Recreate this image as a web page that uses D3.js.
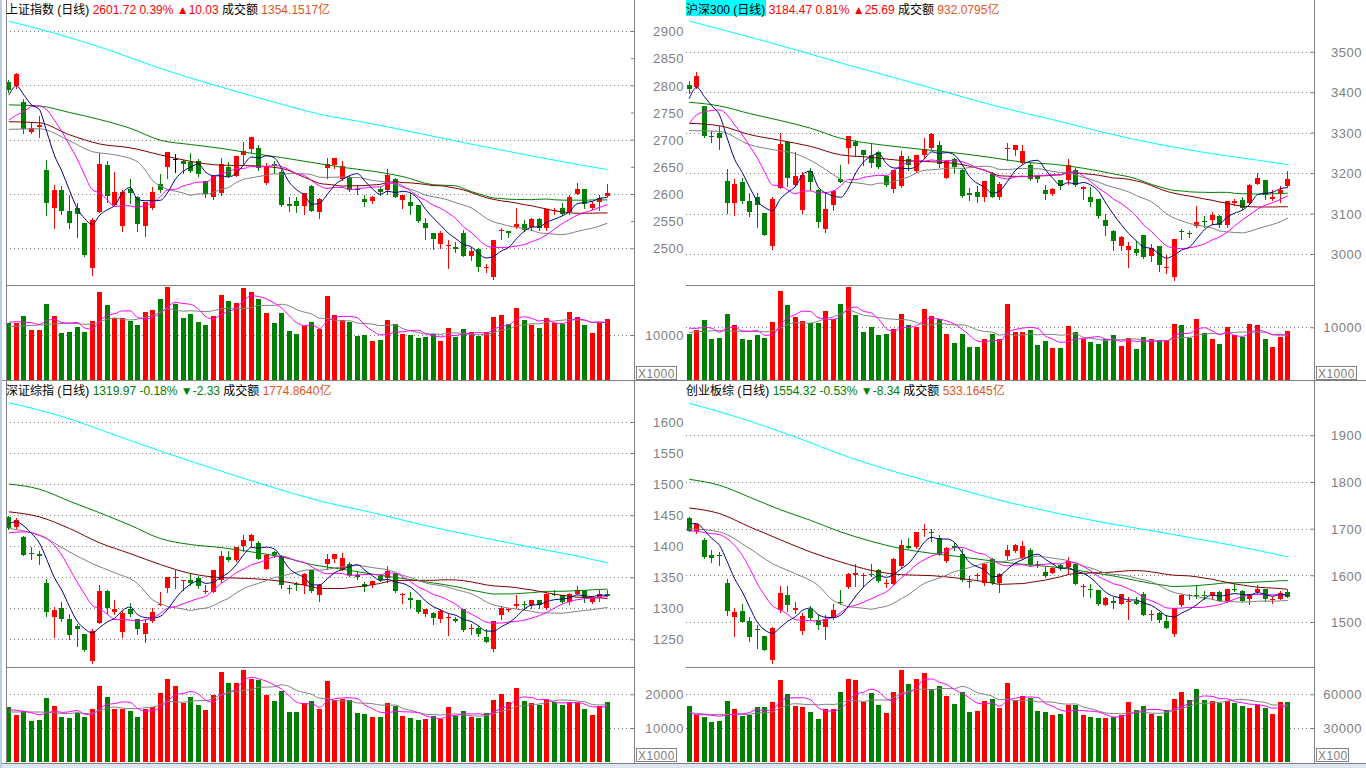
<!DOCTYPE html>
<html><head><meta charset="utf-8">
<script src="https://cdn.jsdelivr.net/npm/d3@7/dist/d3.min.js"></script>
<style>html,body{margin:0;padding:0;background:#fff;overflow:hidden}svg{display:block}</style>
</head><body><svg id="chart" width="1366" height="768"></svg>
<script>
// ================= DATA =================
// [open, high, low, close]
const shOHLC = [[2806,2810,2788,2791],[2799,2823,2795,2821],[2770,2774,2712,2719],[2714,2733,2713,2722],[2724,2744,2704,2727],[2644,2663,2561,2584],[2575,2617,2538,2607],[2607,2614,2564,2569],[2569,2598,2538,2547],[2574,2583,2520,2564],
[2547,2547,2486,2488],[2463,2555,2451,2552],[2567,2676,2567,2655],[2653,2661,2586,2597],[2580,2641,2580,2604],[2541,2607,2532,2603],[2610,2627,2583,2601],[2595,2596,2532,2544],[2541,2586,2523,2586],[2575,2612,2572,2604],
[2618,2637,2604,2607],[2650,2677,2630,2677],[2664,2674,2640,2664],[2661,2663,2638,2656],[2659,2675,2641,2643],[2661,2664,2634,2636],[2623,2623,2595,2600],[2595,2635,2591,2633],[2601,2666,2599,2655],[2650,2659,2632,2633],
[2633,2669,2633,2669],[2671,2696,2653,2679],[2683,2704,2676,2704],[2684,2691,2644,2647],[2620,2657,2618,2652],[2656,2660,2638,2652],[2641,2644,2578,2580],[2582,2595,2569,2577],[2587,2595,2567,2577],[2577,2602,2564,2602],
[2615,2617,2569,2569],[2566,2592,2556,2590],[2648,2666,2630,2655],[2653,2666,2647,2666],[2627,2661,2626,2652],[2632,2633,2606,2607],[2609,2617,2600,2607],[2591,2599,2578,2586],[2587,2596,2584,2594],[2609,2613,2598,2603],
[2607,2646,2600,2635],[2627,2629,2594,2595],[2588,2598,2574,2598],[2586,2601,2564,2578],[2580,2580,2548,2550],[2546,2555,2517,2537],[2528,2529,2499,2517],[2508,2531,2501,2529],[2505,2515,2464,2506],[2503,2511,2494,2499],
[2529,2534,2485,2485],[2485,2503,2478,2495],[2499,2500,2459,2466],[2463,2472,2457,2466],[2448,2515,2443,2515],[2532,2538,2517,2534],[2532,2532,2521,2529],[2539,2575,2538,2544],[2544,2552,2532,2534],[2540,2555,2534,2554],
[2554,2555,2534,2537],[2538,2572,2534,2572],[2569,2575,2564,2571],[2574,2583,2561,2563],[2566,2599,2564,2595],[2600,2621,2600,2610],[2610,2610,2574,2582],[2575,2586,2572,2582],[2586,2598,2571,2591.69],[2596,2618,2596,2601.72]];
const shVol = [12593,12593,14222,11111,11111,16889,14222,10444,10667,11778,10667,13111,19556,16667,13704,13704,13185,12222,15111,15556,
18000,20741,16889,13778,14667,12889,12222,14222,18889,17556,17111,20444,19630,18000,14889,12667,14889,10889,10222,12000,
12889,11333,18667,14444,13333,12889,9778,10000,8667,8889,13333,12444,10222,10000,9333,9556,10222,8667,11556,9556,
11333,10667,9778,10667,14000,14444,12444,16000,13333,12222,11556,13778,12667,12444,15111,14000,12222,10444,12889,13556];
// moving-average values read at the left edge (before a full window exists) and the long MA
const shHeads = {
  ma5:[[0,2782],[1,2799],[2,2782],[3,2764]],
  ma10:[[0,2736],[1,2745],[2,2752],[3,2761],[4,2762],[5,2755],[6,2736],[7,2715],[8,2690]],
  ma20:[[0,2719],[4,2720],[8,2698],[11,2678],[14,2672],[17,2659],[18,2644]],
  ma40:[[0,2733],[4,2731],[8,2709],[12,2692],[16,2685],[20,2672],[24,2660],[28,2653],[32,2652],[36,2647]],
  ma60:[[0,2764],[4,2762],[8,2750],[12,2737],[16,2721],[20,2699],[24,2691],[28,2684],[32,2675],[36,2667],[40,2658],[44,2649],[48,2642],[52,2632],[56,2617]],
  long:[[0,2918],[6,2896],[13,2866],[20,2831],[27,2801],[34,2773],[41,2747],[48,2729],[55,2709],[62,2689],[69,2670],[76,2652],[79,2645]],
  v5:[[0,12815],[1,12963],[2,12815],[3,12741]],
  v10:[[0,11852],[4,12222],[8,12593]]
};
const shHeader = ['上证指数','(日线)','2601.72','0.39%','▲10.03','成交额','1354.1517亿'];

const hsOHLC = [[3418,3427,3398,3408],[3412,3449,3410,3440],[3365,3366,3288,3292],[3292,3303,3278,3291],[3299,3317,3259,3286],[3181,3211,3101,3127],[3126,3185,3097,3174],[3177,3188,3127,3130],[3130,3150,3094,3103],[3141,3150,3066,3120],
[3101,3101,3046,3046],[3019,3140,3012,3136],[3163,3300,3163,3272],[3276,3278,3167,3188],[3171,3251,3169,3192],[3109,3202,3101,3196],[3206,3212,3159,3177],[3159,3160,3066,3078],[3062,3152,3054,3112],[3120,3159,3109,3155],
[3185,3221,3177,3179],[3262,3292,3226,3292],[3276,3282,3243,3266],[3258,3258,3219,3244],[3245,3272,3216,3225],[3251,3255,3212,3216],[3194,3194,3169,3171],[3161,3208,3153,3207],[3167,3255,3165,3241],[3235,3241,3208,3219],
[3204,3245,3202,3245],[3245,3286,3237,3260],[3262,3299,3260,3297],[3270,3280,3216,3222],[3189,3233,3188,3229],[3235,3237,3200,3216],[3208,3210,3142,3144],[3152,3163,3134,3145],[3154,3167,3128,3140],[3140,3181,3132,3181],
[3198,3202,3140,3140],[3140,3177,3136,3174],[3260,3274,3233,3263],[3258,3270,3245,3270],[3226,3270,3225,3255],[3221,3225,3183,3185],[3192,3194,3179,3185],[3157,3171,3136,3148],[3149,3163,3146,3161],[3183,3184,3161,3169],
[3182,3235,3174,3219],[3207,3212,3169,3170],[3161,3169,3136,3165],[3142,3165,3118,3129],[3136,3137,3089,3093],[3085,3099,3048,3070],[3057,3060,3009,3031],[3019,3044,3009,3041],[3009,3030,2967,3019],[3013,3031,2998,3002],
[3046,3048,2990,2992],[2996,3025,2983,3015],[3019,3020,2959,2972],[2965,2998,2954,2968],[2942,3038,2936,3038],[3058,3062,3038,3057],[3052,3058,3042,3049],[3068,3119,3066,3079],[3081,3093,3066,3078],[3085,3104,3074,3097],
[3095,3097,3066,3071],[3072,3132,3066,3130],[3127,3137,3120,3130],[3134,3142,3112,3114],[3126,3173,3124,3171],[3174,3200,3173,3189],[3184,3184,3136,3146],[3136,3157,3134,3142],[3150,3167,3128,3158.78],[3167,3206,3167,3184.47]];
const hsVol = [8734,9494,11392,7785,7975,12532,10443,7785,7595,8544,7975,11013,16899,14241,11962,11203,10759,10886,13101,11519,
14430,17722,12342,9114,10063,8544,8734,9684,12532,10443,10127,13481,12215,11519,8734,7089,8734,6266,6266,7722,
8797,7785,14430,9114,9114,9494,6646,7405,6076,6076,10253,9114,7785,7215,6835,7785,8544,6456,7975,5886,
8165,7785,7595,7595,10633,10443,7975,11582,8924,7785,6835,10063,8544,8165,10633,10443,7785,6266,8165,9304];
const hsHeads = {
  ma5:[[0,3384],[1,3412],[2,3389],[3,3366]],
  ma10:[[0,3322],[1,3344],[2,3351],[3,3355],[4,3356],[5,3344],[6,3319],[7,3295],[8,3266]],
  ma20:[[0,3305],[4,3303],[8,3270],[11,3258],[14,3248],[17,3221]],
  ma40:[[0,3323],[4,3317],[8,3295],[12,3281],[16,3266],[20,3245],[24,3239],[28,3231],[32,3228],[36,3221]],
  ma60:[[0,3375],[4,3366],[8,3347],[12,3330],[16,3311],[20,3286],[24,3273],[28,3264],[32,3256],[36,3248],[40,3238],[44,3227],[48,3222],[52,3212],[56,3198]],
  long:[[0,3576],[7,3541],[14,3505],[21,3467],[28,3431],[35,3394],[41,3363],[48,3332],[55,3299],[62,3271],[69,3248],[75,3232],[79,3221]],
  v5:[[0,9810],[1,9810],[2,10000],[3,9810]],
  v10:[[0,8987],[4,9367],[8,9177]]
};
const hsHeader = ['沪深300','(日线)','3184.47','0.81%','▲25.69','成交额','932.0795亿'];

const szOHLC = [[1447,1448,1428,1430],[1431,1445,1428,1442],[1415,1416,1386,1386],[1389,1399,1380,1387],[1388,1392,1372,1384],[1341,1347,1287,1294],[1286,1302,1254,1297],[1300,1310,1280,1282],[1282,1290,1251,1257],[1271,1275,1240,1267],
[1259,1259,1231,1232],[1215,1266,1212,1263],[1277,1337,1277,1327],[1327,1330,1293,1301],[1294,1313,1290,1298],[1261,1295,1254,1293],[1299,1309,1287,1291],[1282,1283,1259,1266],[1259,1283,1245,1277],[1279,1301,1278,1294],
[1306,1326,1306,1307.5],[1333,1350,1326,1350],[1348,1361,1333,1350.5],[1344,1345.5,1329,1345],[1346,1357,1338,1341],[1349,1352,1333,1336],[1326,1337,1324,1328],[1326,1362,1326,1361],[1345,1392,1343,1384],[1382,1392,1376,1378],
[1377,1399,1376,1399],[1400,1418,1393,1410],[1409,1420,1400,1418],[1405,1408,1379,1380],[1364,1387,1363,1385],[1391,1392,1383,1386],[1384,1385,1332,1337],[1333,1337,1325,1332],[1339,1342,1329,1337],[1337,1356,1324,1355],
[1361,1362,1326,1327],[1322,1339,1312,1337],[1372,1387,1364,1380],[1379,1388,1375,1387],[1362,1389,1362,1381],[1371,1375,1352,1353],[1353,1359,1347,1350],[1339,1343,1328,1334],[1337,1344,1335,1343.5],[1352,1355,1344,1345],
[1349,1368,1342,1360],[1356,1357,1326,1328],[1322.5,1325,1309,1323.6],[1316,1326,1301,1314],[1313,1314,1293,1294],[1291,1298,1288,1298],[1293,1294,1275,1284],[1282,1298,1278,1296],[1284,1290,1257,1286],[1283,1286,1278,1279.5],
[1298,1299,1263,1264.5],[1267,1275,1258,1268.3],[1268,1271,1255,1258],[1254,1266,1246,1246],[1234,1280,1231,1279],[1289,1303,1283,1301],[1298.4,1301,1295,1299.4],[1304,1322,1300,1307.5],[1306.4,1312,1299,1304.8],[1305,1313,1301,1313],
[1313,1314,1301,1305],[1301,1325,1299,1323.6],[1323.6,1329,1321,1322.5],[1321,1322,1309,1310],[1310,1324,1307.5,1322.5],[1323.6,1336,1322.5,1329],[1329,1330,1310,1316],[1310,1318,1309,1316.6],[1316,1329,1311,1322.3],[1323.6,1330,1319.5,1319.97]];
const szVol = [16238,13960,14950,12079,12376,18911,16535,13267,12970,14455,13267,15644,22475,19208,15644,15644,15050,13267,15644,16238,
20396,24554,22475,17426,19208,16832,15347,19802,26634,23366,23366,27228,24653,24257,19802,18020,20990,14752,14752,17426,
18020,15644,23960,18317,18614,18317,14455,14158,13267,13267,17426,16535,13564,12970,12376,12673,13564,12673,16238,13564,
15050,13267,12970,14455,18317,20097,17722,21880,18020,17426,16832,18317,17722,16832,17722,17426,15644,13861,16535,17722];
const szHeads = {
  ma5:[[0,1436.5],[1,1439.2],[2,1432.2],[3,1420.4]],
  ma10:[[0,1421.5],[2,1423.1],[4,1417.7],[5,1412.3],[6,1401.6],[7,1385.4],[8,1363.9]],
  ma20:[[0,1428.5],[4,1417.7],[8,1390.8],[11,1372],[14,1357],[17,1339.8]],
  ma40:[[0,1455.3],[4,1447.3],[8,1428.5],[12,1405.3],[16,1388.1],[20,1370.4],[24,1355.9],[28,1349.4],[32,1347.8],[36,1343.5]],
  ma60:[[0,1500],[4,1491.9],[8,1472.5],[12,1453.7],[16,1433.8],[20,1412.3],[24,1402.6],[28,1397.8],[32,1390.8],[36,1382.8],[40,1370.4],[44,1362.9],[48,1354.8],[52,1347.8],[56,1340.8]],
  long:[[0,1631],[7,1609],[14,1579],[21,1549],[28,1521],[35,1494],[41,1473],[48,1454],[55,1433],[62,1415],[69,1398],[75,1384],[79,1373]],
  v5:[[0,15444],[1,15246],[2,14949],[3,14553]],
  v10:[[0,14751],[4,14751],[8,14256]]
};
const szHeader = ['深证综指','(日线)','1319.97','-0.18%','▼-2.33','成交额','1774.8640亿'];

const cyOHLC = [[1723,1725,1695,1695],[1696,1711,1691,1709],[1676,1679,1637,1639],[1644,1654,1629,1637],[1643,1650,1623,1641],[1584,1593,1516,1524],[1511,1529,1470,1521],[1524,1539,1500,1501],[1502,1511,1459,1468],[1486,1493,1445,1482],
[1470,1471,1439,1441],[1418,1489,1413,1487],[1525,1577,1521,1562],[1557,1577,1523,1536],[1526,1543,1519,1529],[1481,1519,1474,1513],[1527,1534,1506,1509],[1505,1514,1486,1493],[1489,1516,1464,1507],[1509,1538,1506,1525],
[1543,1568,1539,1541],[1575,1604,1573,1602],[1601,1625,1577,1605],[1600,1604,1577,1601.4],[1602,1625,1599,1600],[1611,1614,1586,1588],[1581,1593,1576,1584],[1582,1638,1581,1636],[1619,1675,1616,1664],[1662,1680,1659,1659],
[1661,1693,1659,1693],[1698,1709,1684,1700],[1693,1700,1673,1691],[1680,1686,1644,1646],[1631,1661,1629,1659],[1662,1670,1654,1658.6],[1645,1657,1588,1589],[1588,1598,1574,1586],[1598,1606,1589,1600],[1584,1627,1580,1625],
[1636,1637,1582,1584],[1584,1604,1564,1602],[1641,1664,1636,1654],[1652,1668,1649,1666],[1637,1673,1636,1662],[1655,1659,1621,1623],[1624,1630,1618,1621],[1607,1618,1596,1599],[1605,1618,1604,1616],[1623,1625,1611,1616],
[1618,1639,1606,1630],[1625,1626,1581,1582],[1575,1582,1556,1577],[1571,1582,1554,1568],[1568,1569,1537,1539],[1537,1554,1537,1551],[1546,1554,1529,1541],[1539,1561,1538,1559],[1544,1554,1507,1546],[1546,1554,1538,1539],
[1561,1564,1514,1516],[1516,1525,1504,1518],[1519,1521,1500,1505],[1502,1516,1488,1488],[1475,1530,1470,1529],[1537,1561,1534,1557],[1557,1561,1550,1556],[1557,1580,1551,1555.5],[1557,1566,1550,1555],[1557,1564,1549,1564],
[1564,1566,1546,1546],[1544,1571,1543,1570],[1571,1582,1566,1569],[1566,1568,1544,1546],[1549,1561,1539,1559],[1564,1579,1561,1571],[1570,1571,1545,1550],[1548,1554,1541,1550],[1550,1566,1549,1562.66],[1564,1568,1554,1554.32]];
const cyVol = [49599,41877,39798,35343,36234,54054,46926,40689,41580,48708,48708,53163,72765,60291,49599,48708,44253,38016,46926,46926,
62073,73656,72765,53163,61182,50490,43362,62073,81675,69201,73656,79002,64746,67419,58509,51381,62073,44253,45144,54054,
55836,47817,70092,54945,58509,56727,45144,44253,41580,42471,50490,50490,41580,39798,38907,38907,39798,41580,53163,46035,
49599,42471,40689,46035,55836,62073,54945,64746,54945,54054,52272,54054,52272,49599,47817,50490,47817,42471,53163,53163];
const cyHeads = {
  ma5:[[0,1710.7],[1,1710.7],[2,1696.4],[3,1678.6]],
  ma10:[[0,1695],[1,1694.3],[2,1691.4],[3,1689.3],[4,1687.2],[5,1678.6],[6,1664.3],[7,1642.9],[8,1614.3]],
  ma20:[[0,1700],[4,1692.9],[8,1657.1],[11,1625],[14,1603.6],[17,1578.6]],
  ma40:[[0,1744.3],[4,1732.2],[8,1703.6],[12,1676.4],[16,1650],[20,1628.6],[24,1610.7],[28,1601.4],[32,1599.3],[36,1592.9]],
  ma60:[[0,1805.7],[4,1792.9],[8,1767.2],[12,1740.7],[16,1717.9],[20,1692.9],[24,1672.9],[28,1657.1],[32,1647.1],[36,1639.3],[40,1630.7],[44,1623.6],[48,1617.9],[52,1608.6],[56,1598.6]],
  long:[[0,1968.6],[7,1935.7],[14,1896.4],[21,1853.6],[28,1817.9],[35,1787.2],[41,1760.7],[48,1735],[55,1712.2],[62,1692.9],[69,1672.2],[75,1653.6],[79,1639.3]],
  v5:[[0,44253],[1,41877],[2,41877],[3,41283]],
  v10:[[0,43659],[4,41877],[8,42174]]
};
const cyHeader = ['创业板综','(日线)','1554.32','-0.53%','▼-8.34','成交额','533.1645亿'];

const shPriceTicks = [2500,2550,2600,2650,2700,2750,2800,2850,2900];
const hsPriceTicks = [3000,3100,3200,3300,3400,3500];
const szPriceTicks = [1250,1300,1350,1400,1450,1500,1550,1600];
const cyPriceTicks = [1500,1600,1700,1800,1900];
const shVolTicks = [10000], hsVolTicks = [10000], szVolTicks = [10000,20000], cyVolTicks = [30000,60000];

// ================= DRAWING =================
const svg = d3.select('#chart');
const FONT = '"Liberation Sans","Noto Sans CJK SC",sans-serif';
const UP = '#ff0000', DOWN = '#008000', FLAT = '#000000', GRAY = '#808080';
const STEP = 7.578;
const MA_STYLE = [['ma5',5,'#000080'],['ma10',10,'#ff00ff'],['ma20',20,'#808080'],['ma40',40,'#800000'],['ma60',60,'#008000']];

const panels = [
 {ohlc:shOHLC, vol:shVol, heads:shHeads, header:shHeader, hl:false, left:6, right:634, xFirst:8.33, top:0, sep:285, bottom:380,
  pDomain:[2500,2900], pRange:[248.3,31], pTicks:shPriceTicks, pGrid:[2500,2600,2700,2800,2900],
  vDomain:[0,10000], vRange:[380,335], vTicks:shVolTicks, axisX:634, labelX:684, unit:'X1000', unitW:40, headerY:14},
 {ohlc:hsOHLC, vol:hsVol, heads:hsHeads, header:hsHeader, hl:true, left:686, right:1314, xFirst:688.7, top:0, sep:285, bottom:380,
  pDomain:[3000,3500], pRange:[254,51.7], pTicks:hsPriceTicks, pGrid:hsPriceTicks,
  vDomain:[0,10000], vRange:[380,327.3], vTicks:hsVolTicks, axisX:1314, labelX:1362, unit:'X1000', unitW:40, headerY:14},
 {ohlc:szOHLC, vol:szVol, heads:szHeads, header:szHeader, hl:false, left:6, right:634, xFirst:8.33, top:381, sep:667, bottom:762,
  pDomain:[1250,1600], pRange:[639.3,422], pTicks:szPriceTicks, pGrid:szPriceTicks,
  vDomain:[0,20000], vRange:[761.7,694.3], vTicks:szVolTicks, axisX:634, labelX:684, unit:'X1000', unitW:40, headerY:395},
 {ohlc:cyOHLC, vol:cyVol, heads:cyHeads, header:cyHeader, hl:false, left:686, right:1314, xFirst:688.7, top:381, sep:667, bottom:762,
  pDomain:[1500,1900], pRange:[622,435.3], pTicks:cyPriceTicks, pGrid:cyPriceTicks,
  vDomain:[0,60000], vRange:[761.7,694.3], vTicks:cyVolTicks, axisX:1314, labelX:1362, unit:'X100', unitW:32, headerY:395}
];

function maPoints(series, period, head){
  const pts = head.filter(d => d[0] < period - 1).map(d => [d[0], d[1]]);
  for (let i = period - 1; i < series.length; i++) pts.push([i, d3.mean(series.slice(i - period + 1, i + 1))]);
  return pts;
}

const defs = svg.append('defs');
svg.append('rect').attr('x',0).attr('y',0).attr('width',1366).attr('height',768).attr('fill','#fff');

panels.forEach((p, k) => {
  const n = p.ohlc.length;
  const x = d3.scaleLinear().domain([0, n - 1]).range([p.xFirst, p.xFirst + (n - 1) * STEP]);
  const y = d3.scaleLinear().domain(p.pDomain).range(p.pRange);
  const yv = d3.scaleLinear().domain(p.vDomain).range(p.vRange);
  const cx = i => Math.round(x(i));
  const closes = p.ohlc.map(d => d[3]);
  const g = svg.append('g');

  defs.append('clipPath').attr('id','cp'+k).append('rect')
    .attr('x',p.left).attr('y',p.top).attr('width',p.right-p.left).attr('height',p.sep-p.top);
  defs.append('clipPath').attr('id','cv'+k).append('rect')
    .attr('x',p.left).attr('y',p.sep).attr('width',p.right-p.left).attr('height',p.bottom-p.sep);

  // dotted grid
  g.append('g').selectAll('line').data(p.pGrid).join('line')
    .attr('x1',p.left).attr('x2',p.right)
    .attr('y1',d=>Math.round(y(d))+0.5).attr('y2',d=>Math.round(y(d))+0.5)
    .attr('stroke',GRAY).attr('stroke-dasharray','1,3');
  g.append('g').selectAll('line').data(p.vTicks).join('line')
    .attr('x1',p.left).attr('x2',p.right)
    .attr('y1',d=>Math.round(yv(d))+0.5).attr('y2',d=>Math.round(yv(d))+0.5)
    .attr('stroke',GRAY).attr('stroke-dasharray','1,3');

  // candles
  const col = d => d[3] > d[0] ? UP : (d[3] < d[0] ? DOWN : FLAT);
  const cg = g.append('g').attr('clip-path',`url(#cp${k})`).attr('shape-rendering','crispEdges');
  cg.selectAll('line').data(p.ohlc).join('line')
    .attr('x1',(d,i)=>cx(i)+0.5).attr('x2',(d,i)=>cx(i)+0.5)
    .attr('y1',d=>Math.round(y(d[1]))).attr('y2',d=>Math.round(y(d[2]))+1)
    .attr('stroke',col);
  cg.selectAll('rect').data(p.ohlc).join('rect')
    .attr('x',(d,i)=>cx(i)-2).attr('width',5)
    .attr('y',d=>Math.round(y(Math.max(d[0],d[3]))))
    .attr('height',d=>Math.max(1, Math.round(y(Math.min(d[0],d[3]))) - Math.round(y(Math.max(d[0],d[3])))))
    .attr('fill',col);

  // moving averages
  const lg = g.append('g').attr('clip-path',`url(#cp${k})`).attr('fill','none').attr('stroke-width',1);
  const line = d3.line().x(d => x(d[0]) + 0.5).y(d => y(d[1])).curve(d3.curveMonotoneX);
  lg.append('path').attr('d', line(p.heads.long)).attr('stroke','#00ffff');
  [...MA_STYLE].reverse().forEach(([key, per, c]) => {
    lg.append('path').attr('d', line(maPoints(closes, per, p.heads[key]))).attr('stroke', c);
  });

  // volume bars
  const vcol = (v,i) => { const d = p.ohlc[i];
    if (d[3] > d[0]) return UP; if (d[3] < d[0]) return DOWN;
    return (i > 0 && d[3] < closes[i-1]) ? DOWN : UP; };
  const vg = g.append('g').attr('clip-path',`url(#cv${k})`).attr('shape-rendering','crispEdges');
  vg.selectAll('rect').data(p.vol).join('rect')
    .attr('x',(v,i)=>cx(i)-2).attr('width',5)
    .attr('y',v=>Math.round(yv(v)))
    .attr('height',v=>Math.round(yv(0)) - Math.round(yv(v)))
    .attr('fill',vcol);
  const vline = d3.line().x(d => x(d[0]) + 0.5).y(d => yv(d[1])).curve(d3.curveMonotoneX);
  const vlg = g.append('g').attr('clip-path',`url(#cv${k})`).attr('fill','none');
  vlg.append('path').attr('d', vline(maPoints(p.vol, 10, p.heads.v10))).attr('stroke', GRAY);
  vlg.append('path').attr('d', vline(maPoints(p.vol, 5, p.heads.v5))).attr('stroke', '#ff00ff');

  // axes
  const styleAxis = (ga) => {
    ga.select('.domain').remove();
    ga.attr('font-family', FONT).attr('font-size', 13);
    ga.selectAll('line').attr('stroke', GRAY);
    ga.selectAll('text').attr('x', p.labelX - p.axisX).attr('text-anchor','end')
      .attr('fill', GRAY).attr('dy','0.36em').attr('letter-spacing','0.5px');
  };
  svg.append('g').attr('transform',`translate(${p.axisX},0)`)
    .call(d3.axisLeft(y).tickValues(p.pTicks).tickSize(3).tickFormat(d3.format('d'))).call(styleAxis);
  svg.append('g').attr('transform',`translate(${p.axisX},0)`)
    .call(d3.axisLeft(yv).tickValues(p.vTicks).tickSize(3).tickFormat(d3.format('d'))).call(styleAxis);

  // unit box
  svg.append('rect').attr('x',p.axisX+2.5).attr('y',p.bottom-13.5).attr('width',p.unitW).attr('height',13)
    .attr('fill','#fff').attr('stroke',GRAY);
  svg.append('text').attr('x',p.axisX+4).attr('y',p.bottom-2.5).attr('font-family',FONT).attr('font-size',12)
    .attr('fill',GRAY).attr('letter-spacing','0.4px').text(p.unit);

  // separator between price and volume
  svg.append('line').attr('x1',p.left).attr('x2',p.right).attr('y1',p.sep+0.5).attr('y2',p.sep+0.5).attr('stroke',GRAY);

  // header
  const h = p.header;
  const up = !h[3].startsWith('-');
  const valColor = up ? UP : DOWN;
  if (p.hl) svg.append('rect').attr('x',p.left).attr('y',p.headerY-14).attr('width',80).attr('height',16).attr('fill','#00ffff');
  const t = svg.append('text').attr('x',p.left).attr('y',p.headerY).attr('font-family',FONT).attr('font-size',12);
  const segs = [[h[0],'#000'],[' '+h[1],'#000'],[' '+h[2],valColor],[' '+h[3],valColor],[' '+h[4],valColor],[' '+h[5],'#000'],[' '+h[6],'#e0561b']];
  t.selectAll('tspan').data(segs).join('tspan').attr('fill',d=>d[1]).text(d=>d[0]).attr('xml:space','preserve');
  t.attr('xml:space','preserve');
});

// frame lines
const frame = svg.append('g').attr('stroke',GRAY).attr('shape-rendering','crispEdges');
frame.append('line').attr('x1',6.5).attr('x2',6.5).attr('y1',0).attr('y2',763);
frame.append('line').attr('x1',634.5).attr('x2',634.5).attr('y1',0).attr('y2',763);
frame.append('line').attr('x1',1314.5).attr('x2',1314.5).attr('y1',0).attr('y2',763);
frame.append('line').attr('x1',0).attr('x2',1366).attr('y1',380.5).attr('y2',380.5);
frame.append('line').attr('x1',0).attr('x2',1366).attr('y1',763.5).attr('y2',763.5);
svg.append('rect').attr('x',0).attr('y',764).attr('width',1366).attr('height',4).attr('fill','#dbe6f0');
svg.append('rect').attr('x',0).attr('y',0).attr('width',2).attr('height',768).attr('fill','#b8cce4');
</script></body></html>
